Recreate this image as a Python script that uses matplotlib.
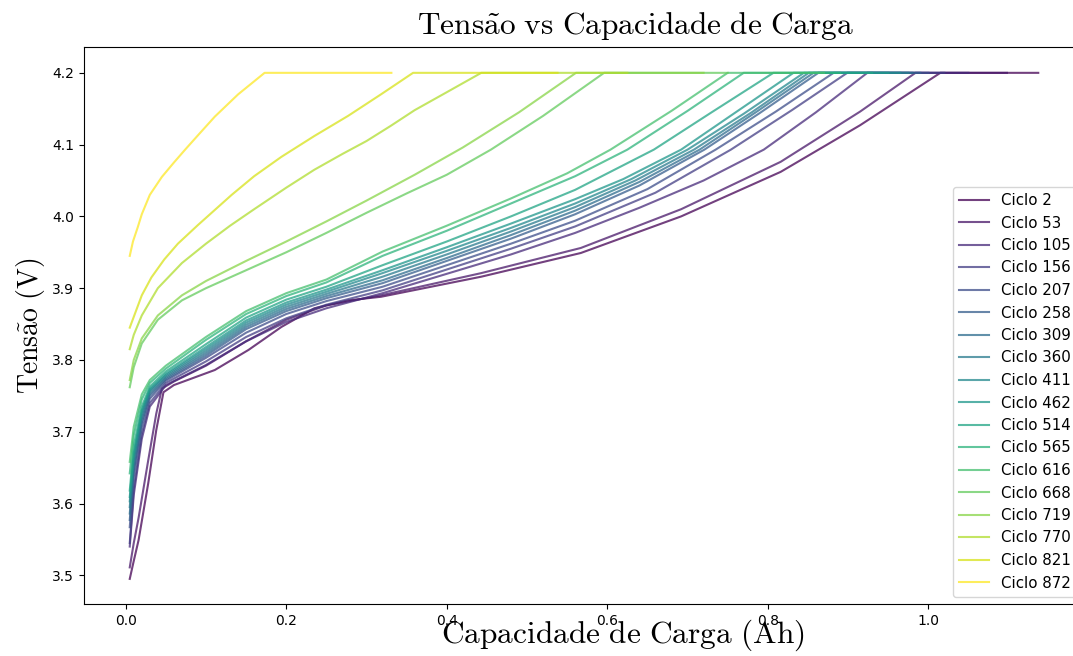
import numpy as np
import matplotlib
matplotlib.use('Agg')
import matplotlib.pyplot as plt

plt.rcParams['mathtext.fontset'] = 'cm'

cycles = [2, 53, 105, 156, 207, 258, 309, 360, 411, 462, 514, 565, 616, 668, 719, 770, 821, 872]

cap_c2 = [0.005, 0.010, 0.016, 0.028, 0.038, 0.047, 0.060, 0.111, 0.153, 0.194, 0.235, 0.277, 0.318, 0.443, 0.567, 0.692, 0.816, 0.915, 1.015, 1.137]
v_c2 = [3.495, 3.520, 3.549, 3.628, 3.702, 3.755, 3.765, 3.786, 3.814, 3.846, 3.872, 3.883, 3.888, 3.916, 3.949, 4.000, 4.062, 4.127, 4.200, 4.200]

cap_c53 = [0.005, 0.010, 0.016, 0.028, 0.038, 0.045, 0.060, 0.100, 0.150, 0.200, 0.250, 0.318, 0.443, 0.567, 0.692, 0.816, 0.915, 0.984, 1.098]
v_c53 = [3.511, 3.545, 3.580, 3.660, 3.725, 3.760, 3.770, 3.792, 3.826, 3.856, 3.876, 3.890, 3.921, 3.956, 4.010, 4.076, 4.146, 4.200, 4.200]

cap_c105 = [0.005, 0.01, 0.02, 0.03, 0.05, 0.1, 0.15, 0.2, 0.25, 0.32, 0.40, 0.48, 0.56, 0.64, 0.72, 0.795, 0.86, 0.924, 1.050]
v_c105 = [3.540, 3.612, 3.690, 3.735, 3.765, 3.793, 3.826, 3.853, 3.872, 3.893, 3.920, 3.947, 3.977, 4.012, 4.050, 4.093, 4.145, 4.200, 4.200]

cap_c156 = [0.005, 0.01, 0.02, 0.03, 0.05, 0.1, 0.15, 0.2, 0.25, 0.32, 0.40, 0.48, 0.56, 0.66, 0.754, 0.83, 0.899, 1.020]
v_c156 = [3.545, 3.620, 3.697, 3.740, 3.768, 3.798, 3.832, 3.858, 3.877, 3.897, 3.926, 3.955, 3.986, 4.033, 4.093, 4.148, 4.200, 4.200]

cap_c207 = [0.005, 0.01, 0.02, 0.03, 0.05, 0.1, 0.15, 0.2, 0.25, 0.32, 0.40, 0.48, 0.56, 0.65, 0.735, 0.81, 0.882, 1.000]
v_c207 = [3.567, 3.637, 3.707, 3.746, 3.771, 3.803, 3.838, 3.864, 3.882, 3.902, 3.932, 3.962, 3.994, 4.038, 4.093, 4.146, 4.200, 4.200]

cap_c258 = [0.005, 0.01, 0.02, 0.03, 0.05, 0.1, 0.15, 0.2, 0.25, 0.32, 0.40, 0.48, 0.56, 0.64, 0.721, 0.79, 0.863, 0.990]
v_c258 = [3.577, 3.645, 3.713, 3.750, 3.773, 3.806, 3.843, 3.868, 3.886, 3.907, 3.938, 3.969, 4.003, 4.043, 4.093, 4.144, 4.200, 4.200]

cap_c309 = [0.005, 0.01, 0.02, 0.03, 0.05, 0.1, 0.15, 0.2, 0.25, 0.32, 0.40, 0.48, 0.56, 0.64, 0.715, 0.785, 0.857, 0.980]
v_c309 = [3.586, 3.652, 3.718, 3.753, 3.775, 3.809, 3.846, 3.871, 3.889, 3.911, 3.942, 3.974, 4.008, 4.048, 4.093, 4.145, 4.200, 4.200]

cap_c360 = [0.005, 0.01, 0.02, 0.03, 0.05, 0.1, 0.15, 0.2, 0.25, 0.32, 0.40, 0.48, 0.56, 0.635, 0.708, 0.78, 0.851, 0.975]
v_c360 = [3.595, 3.660, 3.723, 3.756, 3.777, 3.812, 3.849, 3.874, 3.892, 3.916, 3.947, 3.979, 4.013, 4.050, 4.093, 4.145, 4.200, 4.200]

cap_c411 = [0.005, 0.01, 0.02, 0.03, 0.05, 0.1, 0.15, 0.2, 0.25, 0.32, 0.40, 0.48, 0.56, 0.63, 0.700, 0.77, 0.845, 0.965]
v_c411 = [3.603, 3.665, 3.727, 3.758, 3.779, 3.815, 3.852, 3.877, 3.895, 3.921, 3.952, 3.984, 4.018, 4.052, 4.093, 4.143, 4.200, 4.200]

cap_c462 = [0.005, 0.01, 0.02, 0.03, 0.05, 0.1, 0.15, 0.2, 0.25, 0.32, 0.40, 0.48, 0.56, 0.62, 0.692, 0.76, 0.832, 0.950]
v_c462 = [3.609, 3.670, 3.730, 3.760, 3.781, 3.818, 3.855, 3.880, 3.898, 3.925, 3.957, 3.990, 4.024, 4.052, 4.093, 4.145, 4.200, 4.200]

cap_c514 = [0.005, 0.01, 0.02, 0.03, 0.05, 0.1, 0.15, 0.2, 0.25, 0.32, 0.40, 0.48, 0.56, 0.658, 0.73, 0.807, 0.930]
v_c514 = [3.618, 3.680, 3.735, 3.763, 3.784, 3.822, 3.859, 3.884, 3.902, 3.932, 3.965, 4.000, 4.037, 4.093, 4.145, 4.200, 4.200]

cap_c565 = [0.005, 0.01, 0.02, 0.03, 0.05, 0.1, 0.15, 0.2, 0.25, 0.32, 0.40, 0.48, 0.56, 0.625, 0.70, 0.770, 0.890]
v_c565 = [3.642, 3.695, 3.745, 3.768, 3.788, 3.828, 3.864, 3.889, 3.908, 3.945, 3.980, 4.018, 4.056, 4.093, 4.147, 4.200, 4.200]

cap_c616 = [0.005, 0.01, 0.02, 0.03, 0.05, 0.1, 0.15, 0.2, 0.25, 0.32, 0.40, 0.48, 0.55, 0.604, 0.68, 0.750, 0.870]
v_c616 = [3.658, 3.707, 3.752, 3.772, 3.792, 3.832, 3.868, 3.893, 3.912, 3.951, 3.987, 4.025, 4.060, 4.093, 4.147, 4.200, 4.200]

cap_c668 = [0.005, 0.01, 0.02, 0.04, 0.07, 0.1, 0.15, 0.2, 0.25, 0.3, 0.35, 0.4, 0.455, 0.52, 0.596, 0.750]
v_c668 = [3.762, 3.790, 3.823, 3.856, 3.883, 3.900, 3.925, 3.950, 3.977, 4.005, 4.032, 4.058, 4.093, 4.140, 4.200, 4.200]

cap_c719 = [0.005, 0.01, 0.02, 0.04, 0.07, 0.1, 0.15, 0.2, 0.25, 0.3, 0.36, 0.42, 0.49, 0.561, 0.720]
v_c719 = [3.772, 3.800, 3.830, 3.862, 3.890, 3.910, 3.938, 3.965, 3.993, 4.022, 4.058, 4.096, 4.145, 4.200, 4.200]

cap_c770 = [0.005, 0.01, 0.02, 0.04, 0.07, 0.1, 0.13, 0.16, 0.2, 0.235, 0.27, 0.3, 0.33, 0.36, 0.4, 0.443, 0.625]
v_c770 = [3.815, 3.835, 3.862, 3.900, 3.935, 3.962, 3.987, 4.010, 4.040, 4.065, 4.087, 4.105, 4.126, 4.148, 4.173, 4.200, 4.200]

cap_c821 = [0.005, 0.01, 0.02, 0.032, 0.048, 0.065, 0.09, 0.11, 0.132, 0.16, 0.194, 0.235, 0.277, 0.318, 0.358, 0.538]
v_c821 = [3.845, 3.860, 3.890, 3.915, 3.940, 3.962, 3.988, 4.008, 4.030, 4.056, 4.083, 4.112, 4.140, 4.170, 4.200, 4.200]

cap_c872 = [0.005, 0.009, 0.015, 0.020, 0.030, 0.045, 0.060, 0.074, 0.090, 0.111, 0.140, 0.173, 0.331]
v_c872 = [3.945, 3.965, 3.985, 4.003, 4.030, 4.055, 4.075, 4.093, 4.113, 4.139, 4.170, 4.200, 4.200]

series = [
    (2, cap_c2, v_c2), (53, cap_c53, v_c53), (105, cap_c105, v_c105),
    (156, cap_c156, v_c156), (207, cap_c207, v_c207), (258, cap_c258, v_c258),
    (309, cap_c309, v_c309), (360, cap_c360, v_c360), (411, cap_c411, v_c411),
    (462, cap_c462, v_c462), (514, cap_c514, v_c514), (565, cap_c565, v_c565),
    (616, cap_c616, v_c616), (668, cap_c668, v_c668), (719, cap_c719, v_c719),
    (770, cap_c770, v_c770), (821, cap_c821, v_c821), (872, cap_c872, v_c872),
]

fig = plt.figure(figsize=(10.73, 6.56), dpi=100)
ax = fig.add_axes([84 / 1073, 52 / 656, 1000 / 1073, 557 / 656])
colors = plt.cm.viridis(np.linspace(0, 1, len(series)))
for (c, x, y), col in zip(series, colors):
    ax.plot(x, y, color=col, alpha=0.75, lw=1.5, label=f'Ciclo {c}')

ax.set_xlim(-0.052, 1.194)
ax.set_ylim(3.46, 4.236)
ax.set_xticks([0.0, 0.2, 0.4, 0.6, 0.8, 1.0])
ax.set_yticks([3.5, 3.6, 3.7, 3.8, 3.9, 4.0, 4.1, 4.2])

ax.set_title(r'$\mathrm{Tens\tilde{a}o\ vs\ Capacidade\ de\ Carga}$', fontsize=22.6, x=0.552, pad=9)
ax.set_xlabel(r'$\mathrm{Capacidade\ de\ Carga\ (Ah)}$', fontsize=22.6)
ax.xaxis.set_label_coords(0.539, -0.024)
ax.set_ylabel(r'$\mathrm{Tens\tilde{a}o\ (V)}$', fontsize=20)
ax.legend(loc='lower right', fontsize=10.8)

fig.savefig('out.png', dpi=100)
